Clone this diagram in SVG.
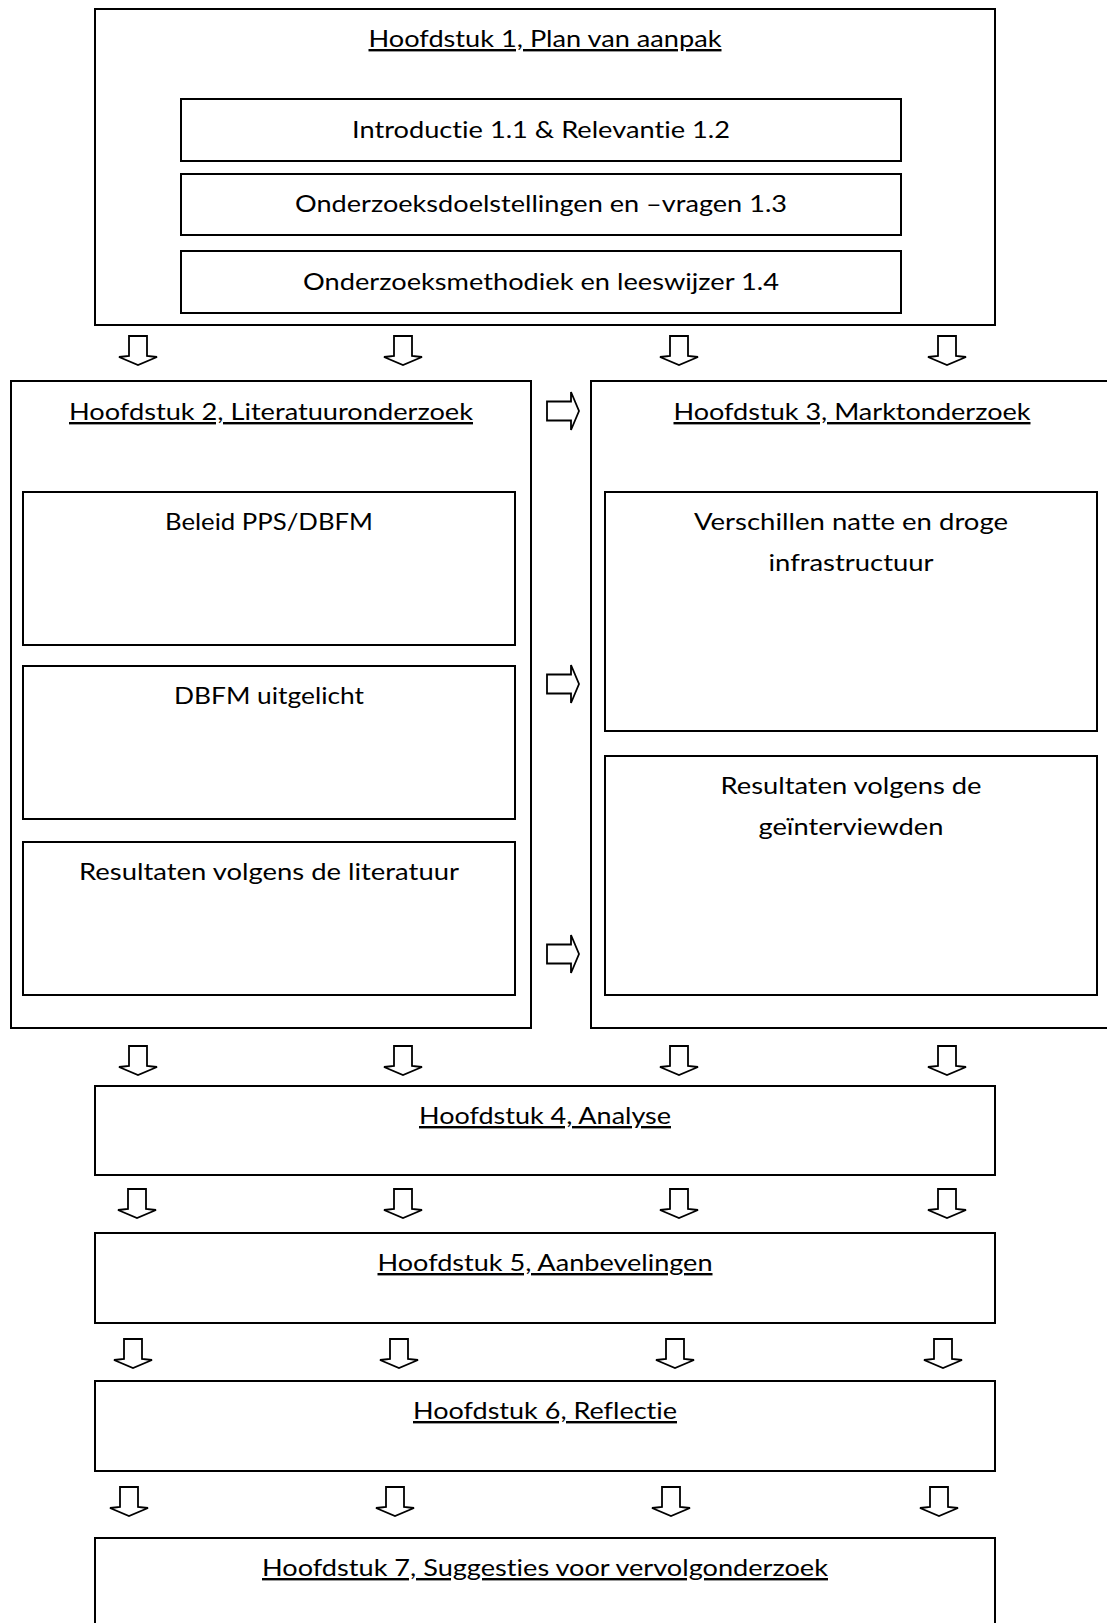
<svg xmlns="http://www.w3.org/2000/svg" width="1107" height="1623" viewBox="0 0 1107 1623">
  <style>
    .box { fill: #ffffff; stroke: #000000; stroke-width: 2; }
    .arrow { fill: #ffffff; stroke: #000000; stroke-width: 1.8; stroke-linejoin: miter; }
    .t { font-family: Lato, "Liberation Sans", sans-serif; font-size: 24px; fill: #000000; text-anchor: middle; font-variant-ligatures: none; }
    .title { text-decoration: underline; text-decoration-skip-ink: none; text-decoration-thickness: 2px; text-underline-offset: 3px; }
  </style>
  <defs>
    <!-- block arrow pointing down, origin at top centre -->
    <path id="down" d="M -9 0 L 9 0 L 9 20 L 19 21 L 0 29 L -19 21 L -9 20 Z"/>
    <!-- block arrow pointing right, origin at left middle -->
    <path id="right" d="M 0 -9.5 L 24 -9.5 L 24 -19 L 32 0 L 24 19 L 24 9.5 L 0 9.5 Z"/>
  </defs>
  <rect width="1107" height="1623" fill="#ffffff"/>

  <!-- Chapter 1 -->
  <g id="h1">
    <rect class="box" x="95" y="9" width="900" height="316"/>
    <text class="t title" x="545" y="47" textLength="353" lengthAdjust="spacingAndGlyphs">Hoofdstuk 1, Plan van aanpak</text>
  </g>
  <g id="h1-1">
    <rect class="box" x="181" y="99" width="720" height="62"/>
    <text class="t" x="541" y="138" textLength="378" lengthAdjust="spacingAndGlyphs">Introductie 1.1 &amp; Relevantie 1.2</text>
  </g>
  <g id="h1-3">
    <rect class="box" x="181" y="174" width="720" height="61"/>
    <text class="t" x="541" y="212" textLength="492" lengthAdjust="spacingAndGlyphs">Onderzoeksdoelstellingen en –vragen 1.3</text>
  </g>
  <g id="h1-4">
    <rect class="box" x="181" y="251" width="720" height="62"/>
    <text class="t" x="541" y="290" textLength="476" lengthAdjust="spacingAndGlyphs">Onderzoeksmethodiek en leeswijzer 1.4</text>
  </g>

  <!-- Chapter 2 -->
  <g id="h2">
    <rect class="box" x="11" y="381" width="520" height="647"/>
    <text class="t title" x="271" y="420" textLength="404" lengthAdjust="spacingAndGlyphs">Hoofdstuk 2, Literatuuronderzoek</text>
  </g>
  <g id="h2-beleid">
    <rect class="box" x="23" y="492" width="492" height="153"/>
    <text class="t" x="269" y="530" textLength="208" lengthAdjust="spacingAndGlyphs">Beleid PPS/DBFM</text>
  </g>
  <g id="h2-dbfm">
    <rect class="box" x="23" y="666" width="492" height="153"/>
    <text class="t" x="269" y="704" textLength="190" lengthAdjust="spacingAndGlyphs">DBFM uitgelicht</text>
  </g>
  <g id="h2-resultaten">
    <rect class="box" x="23" y="842" width="492" height="153"/>
    <text class="t" x="269" y="880" textLength="380" lengthAdjust="spacingAndGlyphs">Resultaten volgens de literatuur</text>
  </g>

  <!-- Chapter 3 -->
  <g id="h3">
    <rect class="box" x="591" y="381" width="522" height="647"/>
    <text class="t title" x="852" y="420" textLength="357" lengthAdjust="spacingAndGlyphs">Hoofdstuk 3, Marktonderzoek</text>
  </g>
  <g id="h3-verschillen">
    <rect class="box" x="605" y="492" width="492" height="239"/>
    <text class="t" x="851" y="530" textLength="314" lengthAdjust="spacingAndGlyphs">Verschillen natte en droge</text>
    <text class="t" x="851" y="571" textLength="165" lengthAdjust="spacingAndGlyphs">infrastructuur</text>
  </g>
  <g id="h3-resultaten">
    <rect class="box" x="605" y="756" width="492" height="239"/>
    <text class="t" x="851" y="794" textLength="261" lengthAdjust="spacingAndGlyphs">Resultaten volgens de</text>
    <text class="t" x="851" y="835" textLength="185" lengthAdjust="spacingAndGlyphs">geïnterviewden</text>
  </g>

  <!-- Chapters 4 to 7 -->
  <g id="h4">
    <rect class="box" x="95" y="1086" width="900" height="89"/>
    <text class="t title" x="545" y="1124" textLength="252" lengthAdjust="spacingAndGlyphs">Hoofdstuk 4, Analyse</text>
  </g>
  <g id="h5">
    <rect class="box" x="95" y="1233" width="900" height="90"/>
    <text class="t title" x="545" y="1271" textLength="335" lengthAdjust="spacingAndGlyphs">Hoofdstuk 5, Aanbevelingen</text>
  </g>
  <g id="h6">
    <rect class="box" x="95" y="1381" width="900" height="90"/>
    <text class="t title" x="545" y="1419" textLength="264" lengthAdjust="spacingAndGlyphs">Hoofdstuk 6, Reflectie</text>
  </g>
  <g id="h7">
    <rect class="box" x="95" y="1538" width="900" height="110"/>
    <text class="t title" x="545" y="1576" textLength="566" lengthAdjust="spacingAndGlyphs">Hoofdstuk 7, Suggesties voor vervolgonderzoek</text>
  </g>

  <!-- Connectors -->
  <g id="connectors">
    <use href="#down" class="arrow" x="138" y="336"/>
    <use href="#down" class="arrow" x="403" y="336"/>
    <use href="#down" class="arrow" x="679" y="336"/>
    <use href="#down" class="arrow" x="947" y="336"/>

    <use href="#right" class="arrow" x="547" y="411"/>
    <use href="#right" class="arrow" x="547" y="684"/>
    <use href="#right" class="arrow" x="547" y="954"/>

    <use href="#down" class="arrow" x="138" y="1046"/>
    <use href="#down" class="arrow" x="403" y="1046"/>
    <use href="#down" class="arrow" x="679" y="1046"/>
    <use href="#down" class="arrow" x="947" y="1046"/>

    <use href="#down" class="arrow" x="137" y="1189"/>
    <use href="#down" class="arrow" x="403" y="1189"/>
    <use href="#down" class="arrow" x="679" y="1189"/>
    <use href="#down" class="arrow" x="947" y="1189"/>

    <use href="#down" class="arrow" x="133" y="1339"/>
    <use href="#down" class="arrow" x="399" y="1339"/>
    <use href="#down" class="arrow" x="675" y="1339"/>
    <use href="#down" class="arrow" x="943" y="1339"/>

    <use href="#down" class="arrow" x="129" y="1487"/>
    <use href="#down" class="arrow" x="395" y="1487"/>
    <use href="#down" class="arrow" x="671" y="1487"/>
    <use href="#down" class="arrow" x="939" y="1487"/>
  </g>
</svg>
